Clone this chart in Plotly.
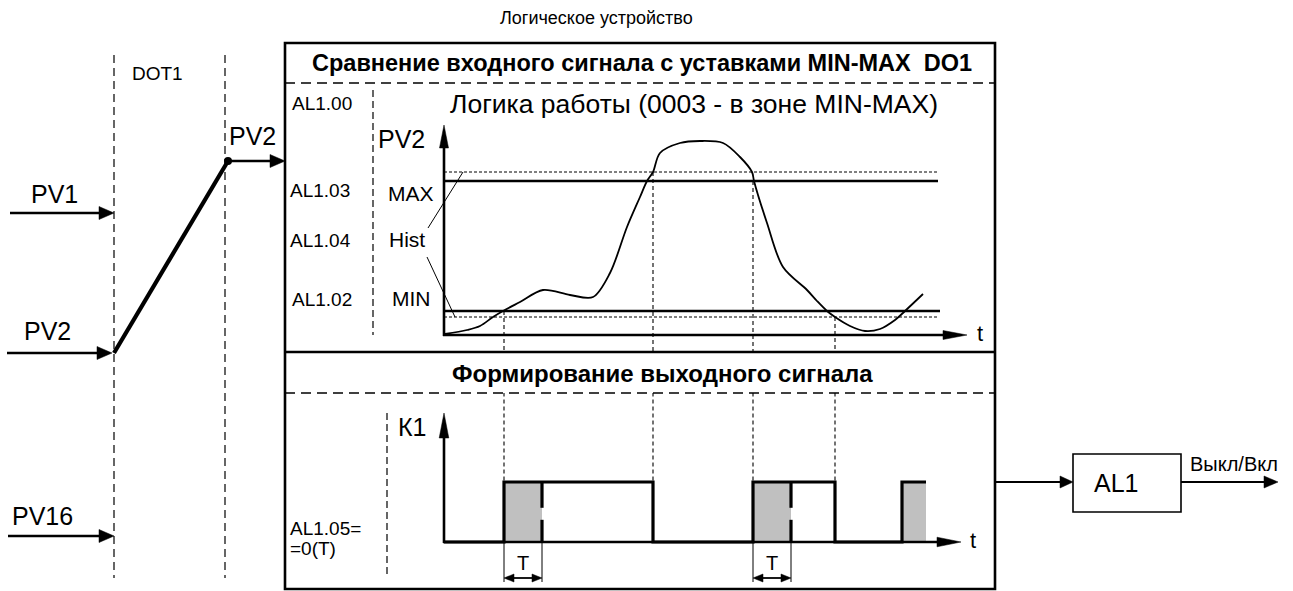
import plotly.graph_objects as go

# ---------------- data ----------------
# PV2 signal in the upper panel (time t, value PV)
curve_t = [1, 23, 36, 49, 59, 76, 99, 126, 149, 166, 183, 196, 203, 209, 216, 236, 256,
           279, 296, 308, 310, 323, 339, 363, 373, 383, 391, 406, 421, 436, 451, 461, 479]
curve_pv = [1, 5, 9, 18, 24, 33, 45, 40, 38, 62, 108, 138, 154, 163, 182, 192, 194,
            192, 178, 163, 154, 112, 68, 45, 34, 24, 18, 9, 4, 6, 15, 24, 41]
level_max = 154
level_max_hyst = 163
level_min = 24
level_min_hyst = 18
level_end_t = 494
# switching instants (where PV2 crosses the thresholds)
switch_t = [60, 209, 309, 391]
switch_pv = [24, 163, 154, 18]
# K1 output signal in the lower panel
pulse_t = [0, 60, 60, 209, 209, 309, 309, 391, 391, 458, 458, 482]
pulse_k = [0, 0, 1, 1, 0, 0, 1, 1, 0, 0, 1, 1]
delay_start = [60, 309, 458]
delay_end = [98, 347, 482]
# texts
title_text = "Логическое устройство"
header1 = "Сравнение входного сигнала с уставками MIN-MAX  DO1"
header2 = "Формирование выходного сигнала"
logic_text = "Логика работы (0003 - в зоне MIN-MAX)"
param_labels = ["AL1.00", "AL1.03", "AL1.04", "AL1.02"]
setpoint_labels = ["MAX", "Hist", "MIN"]
input_labels = ["PV1", "PV2", "PV16"]

# ---------------- figure ----------------
W, H = 1293, 591
FONT = "Arial, 'Liberation Sans', sans-serif"
K_PX = 60.0          # pixels per K1 unit in lower panel

fig = go.Figure()
shapes = []
annots = []


def line(x0, y0, x1, y1, w=1.0, dash=None, xref="x", yref="y"):
    d = dict(type="line", x0=x0, y0=y0, x1=x1, y1=y1, xref=xref, yref=yref,
             line=dict(color="black", width=w), layer="above")
    if dash:
        d["line"]["dash"] = dash
    shapes.append(d)


def tri(pts, xref="x", yref="y"):
    p = "M " + " L ".join(f"{a},{b}" for a, b in pts) + " Z"
    shapes.append(dict(type="path", path=p, xref=xref, yref=yref, fillcolor="black",
                       line=dict(color="black", width=0.5), layer="above"))


def head(tx, ty, direction, L=15, hw=6):
    # main pixel coordinates (y downwards)
    if direction == "right":
        tri([(tx, ty), (tx - L, ty - hw), (tx - L, ty + hw)])
    elif direction == "up":
        tri([(tx, ty), (tx - hw, ty + L), (tx + hw, ty + L)])


def text(x, y, s, size, anchor="center", bold=False, xref="x", yref="y"):
    annots.append(dict(x=x, y=y, xref=xref, yref=yref, text=(f"<b>{s}</b>" if bold else s),
                       showarrow=False, xanchor=anchor, yanchor="middle",
                       font=dict(family=FONT, size=size, color="black")))


# ---- left part: inputs and DOT1 ----
line(114, 55, 114, 578, 1.2, "8px,5px")
line(225, 55, 225, 578, 1.2, "8px,5px")
text(157, 73, "DOT1", 19)
inp_y = [213, 353, 536]
inp_tip = [114, 112, 114]
inp_x0 = [10, 7, 8]
inp_lab_x = [29, 22, 10]
inp_lab_y = [194, 331, 516]
for i, lab in enumerate(input_labels):
    line(inp_x0[i], inp_y[i], inp_tip[i] - 12, inp_y[i], 2.5)
    head(inp_tip[i], inp_y[i], "right", 15, 6.5)
    text(inp_lab_x[i], inp_lab_y[i], lab, 25, anchor="left")
line(114, 353, 228, 161, 4.2)
shapes.append(dict(type="circle", x0=224, y0=157, x1=232, y1=165, xref="x", yref="y",
                   fillcolor="black", line=dict(color="black", width=0), layer="above"))
line(228, 161, 273, 161, 2.5)
head(285, 161, "right", 15, 6.5)
text(227, 136, "PV2", 25, anchor="left")

# ---- title ----
text(498, 18, title_text, 18, anchor="left")

# ---- main box ----
shapes.append(dict(type="rect", x0=285, y0=43, x1=995, y1=589, xref="x", yref="y",
                   line=dict(color="black", width=2.6), layer="above"))
line(285, 352, 995, 352, 2.6)
line(285, 83, 995, 83, 1.5, "10px,6px")
line(285, 393, 995, 393, 1.5, "10px,6px")
text(642, 63, header1, 23.5, bold=True)
text(662, 373, header2, 24, bold=True)

# ---- upper panel ----
line(373, 90, 373, 335, 1.2, "7px,4px")
text(694, 104, logic_text, 26.5)
param_y = [103, 190, 240, 299]
param_x = [290, 288, 288, 290]
for i, lab in enumerate(param_labels):
    text(param_x[i], param_y[i], lab, 19, anchor="left")
text(376, 139, "PV2", 25, anchor="left")
sp_x = [411, 407, 411]
sp_y = [193, 239, 298]
for i, lab in enumerate(setpoint_labels):
    text(sp_x[i], sp_y[i], lab, 21)
# axes
line(444, 336, 444, 140, 2.6)
head(444, 125, "up", 23, 4.5)
line(443, 335, 946, 335, 2.6)
head(967, 335, "right", 24, 4.5)
text(980, 333, "t", 22)
# Hist leader lines
line(428, 228, 463, 172, 1)
line(427, 257, 455, 317, 1)

# ---- lower panel ----
line(387, 413, 387, 577, 1.2, "7px,4px")
text(396, 427, "К1", 25, anchor="left")
text(288, 528, "AL1.05=", 19, anchor="left")
text(288, 548, "=0(T)", 19, anchor="left")
line(444, 543, 444, 430, 2.6)
head(444, 413, "up", 25, 4.8)
line(443, 542, 940, 542, 2.6)
head(961, 542, "right", 24, 4.8)
text(973, 540, "t", 22)

# ---- output block ----
line(995, 482, 1061, 482, 1.8)
head(1073, 482, "right", 13, 6)
shapes.append(dict(type="rect", x0=1073, y0=454, x1=1181, y1=512, xref="x", yref="y",
                   line=dict(color="black", width=1.6), layer="above"))
text(1116, 483, "AL1", 25)
line(1181, 482, 1265, 482, 1.8)
head(1278, 482, "right", 14, 6)
text(1234, 464, "Выкл/Вкл", 20)

# ---- data layer: upper panel (x2/y2, 1 unit = 1 px) ----
for lv, ext in [(level_max, level_end_t), (level_min, level_end_t + 2)]:
    line(0, lv, ext, lv, 2.4, xref="x2", yref="y2")
for lv in [level_max_hyst, level_min_hyst]:
    line(0, lv, level_end_t, lv, 1, "3px,2px", xref="x2", yref="y2")
for t, pv in zip(switch_t, switch_pv):
    line(t, pv, t, -17, 1.1, "4px,3px", xref="x2", yref="y2")
    line(t, 2.49, t, 1, 1.1, "4px,3px", xref="x3", yref="y3")

fig.add_trace(go.Scatter(x=curve_t, y=curve_pv, mode="lines", xaxis="x2", yaxis="y2",
                         line=dict(color="black", width=1.8, shape="spline", smoothing=0.9),
                         hoverinfo="skip", showlegend=False))

# ---- data layer: lower panel (x3/y3) ----
for s, e in zip(delay_start, delay_end):
    fig.add_trace(go.Scatter(x=[s, e, e, s, s], y=[0, 0, 1, 1, 0], mode="lines", fill="toself",
                             fillcolor="#c0c0c0", line=dict(width=0, color="#c0c0c0"),
                             xaxis="x3", yaxis="y3", hoverinfo="skip", showlegend=False))
fig.add_trace(go.Scatter(x=pulse_t, y=pulse_k, mode="lines", xaxis="x3", yaxis="y3",
                         line=dict(color="black", width=3.2), hoverinfo="skip", showlegend=False))
for s, e in zip(delay_start, delay_end):
    if e >= pulse_t[-1]:
        continue
    fig.add_trace(go.Scatter(x=[e, e, None, e, e], y=[1, 0.57, None, 0.37, 0], mode="lines",
                             xaxis="x3", yaxis="y3", line=dict(color="black", width=3.2),
                             hoverinfo="skip", showlegend=False))
    # T dimension
    yb = -40 / K_PX
    ya = -36 / K_PX
    line(s, 0, s, yb, 1, xref="x3", yref="y3")
    line(e, 0, e, yb, 1, xref="x3", yref="y3")
    line(s + 6, ya, e - 6, ya, 1.8, xref="x3", yref="y3")
    hw = 4 / K_PX
    tri([(s, ya), (s + 10, ya + hw), (s + 10, ya - hw)], "x3", "y3")
    tri([(e, ya), (e - 10, ya + hw), (e - 10, ya - hw)], "x3", "y3")
    text((s + e) / 2, -21 / K_PX, "T", 20, xref="x3", yref="y3")

# ---- layout ----
X0 = 444   # pixel of t = 0
ax_off = dict(visible=False, fixedrange=True, showgrid=False, zeroline=False)
fig.update_layout(
    width=W, height=H, margin=dict(l=0, r=0, t=0, b=0),
    paper_bgcolor="white", plot_bgcolor="rgba(0,0,0,0)", showlegend=False,
    xaxis=dict(range=[0, W], domain=[0, 1], **ax_off),
    yaxis=dict(range=[H, 0], domain=[0, 1], **ax_off),
    xaxis2=dict(range=[285 - X0, 995 - X0], domain=[285 / W, 995 / W], anchor="y2", **ax_off),
    yaxis2=dict(range=[335 - 352, 335 - 90], domain=[1 - 352 / H, 1 - 90 / H], anchor="x2", **ax_off),
    xaxis3=dict(range=[285 - X0, 995 - X0], domain=[285 / W, 995 / W], anchor="y3", **ax_off),
    yaxis3=dict(range=[(542 - 589) / K_PX, (542 - 393) / K_PX], domain=[1 - 589 / H, 1 - 393 / H],
                anchor="x3", **ax_off),
    shapes=shapes, annotations=annots,
)
fig.write_html("out.html", config={"displayModeBar": False},
               post_script="document.body.style.margin='0';document.body.style.padding='0';"
                           "document.body.style.overflow='hidden';")
